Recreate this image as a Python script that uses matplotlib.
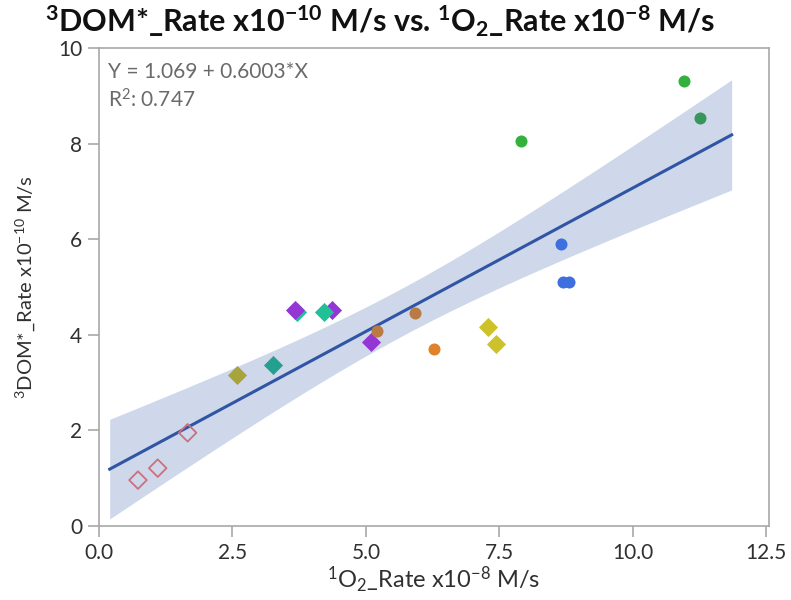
import numpy as np
import matplotlib
matplotlib.use("Agg")
import matplotlib.pyplot as plt

plt.rcParams['font.family'] = ['Lato', 'DejaVu Sans']
plt.rcParams['mathtext.default'] = 'regular'

# points, grouped by colour / marker
hollow_x = [0.73, 1.10, 1.66]
hollow_y = [0.96, 1.21, 1.95]
olive_x = [2.59]
olive_y = [3.16]
teal_x = [3.25, 3.71, 4.22]
teal_y = [3.37, 4.48, 4.48]
purple_x = [3.68, 4.37, 5.09]
purple_y = [4.52, 4.52, 3.85]
brown_x = [5.21, 5.91]
brown_y = [4.08, 4.46]
orange_x = [6.27]
orange_y = [3.70]
yellow_x = [7.29, 7.43]
yellow_y = [4.16, 3.81]
green_x = [7.91, 10.95]
green_y = [8.05, 9.31]
dkgreen_x = [11.25]
dkgreen_y = [8.54]
blue_x = [8.66, 8.69, 8.81]
blue_y = [5.90, 5.10, 5.10]

# fit reported on the chart
intercept = 1.069
slope = 0.6003
r2 = 0.747
fit_range = [0.2, 11.85]

xticks = [0.0, 2.5, 5.0, 7.5, 10.0, 12.5]
yticks = [0, 2, 4, 6, 8, 10]

all_x = np.array(hollow_x + olive_x + teal_x + purple_x + brown_x + orange_x
                 + yellow_x + green_x + dkgreen_x + blue_x)
all_y = np.array(hollow_y + olive_y + teal_y + purple_y + brown_y + orange_y
                 + yellow_y + green_y + dkgreen_y + blue_y)

fig = plt.figure(figsize=(7.91, 6.0), dpi=100)
ax = fig.add_axes([99 / 791, 74 / 600, 670 / 791, 478 / 600])

# confidence band of the fitted line
n = len(all_x)
resid = all_y - (intercept + slope * all_x)
s = np.sqrt(np.sum(resid ** 2) / (n - 2))
sxx = np.sum((all_x - all_x.mean()) ** 2)
t = 2.093
xs = np.linspace(fit_range[0], fit_range[1], 200)
ys = intercept + slope * xs
half = t * s * np.sqrt(1 / n + (xs - all_x.mean()) ** 2 / sxx)
ax.fill_between(xs, ys - half, ys + half, color='#cfd8ea', lw=0, zorder=1)
ax.plot(xs, ys, color='#2f55a4', lw=2.2, zorder=2)

ax.scatter(hollow_x, hollow_y, marker='D', s=80, facecolors='none',
           edgecolors='#cc6f7f', linewidths=1.3, zorder=3)
ax.scatter(olive_x, olive_y, marker='D', s=95, color='#a9a43a', lw=0, zorder=3)
ax.scatter(teal_x[:1], teal_y[:1], marker='D', s=95, color='#23a08f', lw=0, zorder=3)
ax.scatter(teal_x[1:], teal_y[1:], marker='D', s=95, color='#20c197', lw=0, zorder=3)
ax.scatter(purple_x[:1], purple_y[:1], marker='D', s=95, color='#9436d6', lw=0, zorder=4)
ax.scatter(purple_x[1:], purple_y[1:], marker='D', s=95, color='#9436d6', lw=0, zorder=2.9)
ax.scatter(brown_x, brown_y, marker='o', s=75, color='#b97a45', lw=0, zorder=3)
ax.scatter(orange_x, orange_y, marker='o', s=75, color='#e0822a', lw=0, zorder=3)
ax.scatter(yellow_x, yellow_y, marker='D', s=95, color='#cdc22a', lw=0, zorder=3)
ax.scatter(green_x, green_y, marker='o', s=75, color='#34b13c', lw=0, zorder=3)
ax.scatter(dkgreen_x, dkgreen_y, marker='o', s=75, color='#35985a', lw=0, zorder=3)
ax.scatter(blue_x, blue_y, marker='o', s=75, color='#3d6fdf', lw=0, zorder=3)

ax.set_xlim(0, 12.55)
ax.set_ylim(0, 10)
ax.set_xticks(xticks)
ax.set_xticklabels([f"{v:.1f}" for v in xticks])
ax.set_yticks(yticks)

for sp in ax.spines.values():
    sp.set_color('#a8a8a8')
    sp.set_linewidth(1.2)
ax.tick_params(direction='out', length=8, width=1.2, color='#a8a8a8',
               labelsize=15, labelcolor='#303030', pad=4)

ax.set_xlabel("$^1$O$_2$_Rate x10$^{-8}$ M/s", fontsize=17, color='#303030')
ax.xaxis.set_label_coords(0.5, -0.082)
ax.set_ylabel("$^3$DOM*_Rate x10$^{-10}$ M/s", fontsize=14.5, color='#303030')
ax.yaxis.set_label_coords(-0.093, 0.5)
fig.text(0.057, 0.947, "$^3$DOM*_Rate x10$^{-10}$ M/s vs. $^1$O$_2$_Rate x10$^{-8}$ M/s",
         fontsize=22, fontweight='bold', color='#111111', va='baseline')

ax.text(0.014, 0.938, f"Y = {intercept} + {slope}*X", transform=ax.transAxes,
        fontsize=15, color='#6a6a6a', va='baseline')
ax.text(0.014, 0.876, f"R$^2$: {r2}", transform=ax.transAxes,
        fontsize=15, color='#6a6a6a', va='baseline')

fig.savefig("out.png", dpi=100)
